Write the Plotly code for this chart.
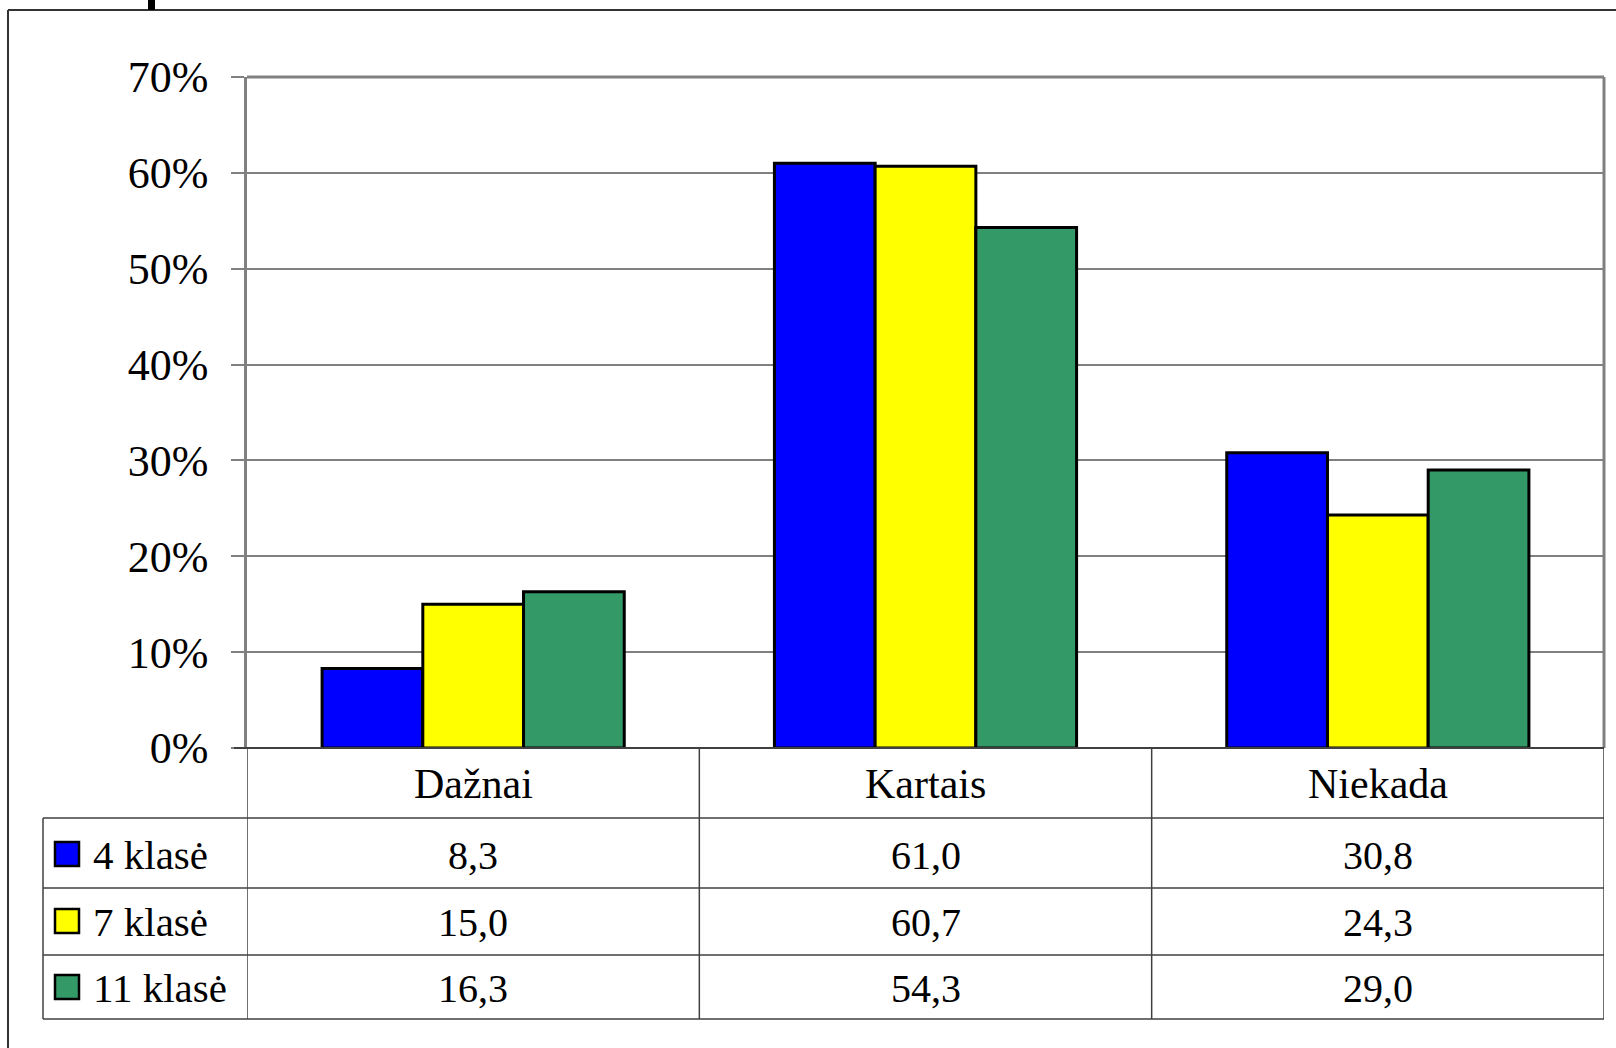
import plotly.graph_objects as go

categories = ["Dažnai", "Kartais", "Niekada"]
series_names = ["4 klasė", "7 klasė", "11 klasė"]
series_values = [
    [8.3, 61.0, 30.8],
    [15.0, 60.7, 24.3],
    [16.3, 54.3, 29.0],
]
series_colors = ["#0000FF", "#FFFF00", "#339966"]
y_ticks = [0, 10, 20, 30, 40, 50, 60, 70]

W, H = 1616, 1048
ML, MR, MT, MB = 247, 12, 77, 300
PH = H - MT - MB
PW = W - ML - MR

def py(px):
    return (H - MB - px) / PH

def pxp(px):
    return (px - ML) / PW

FONT = "Liberation Serif"

fig = go.Figure()
for name, vals, col in zip(series_names, series_values, series_colors):
    fig.add_trace(go.Bar(
        x=list(range(len(categories))), y=vals, name=name,
        marker=dict(color=col, line=dict(color="black", width=3)),
        showlegend=False,
    ))

shapes = []
annotations = []
grid = "#808080"
dark = "#404040"

# outer frame
shapes.append(dict(type="line", xref="paper", yref="paper", x0=pxp(8), x1=pxp(W + 5),
                   y0=py(10), y1=py(10), line=dict(color="#333333", width=2)))
shapes.append(dict(type="line", xref="paper", yref="paper", x0=pxp(8), x1=pxp(8),
                   y0=py(10), y1=py(H + 5), line=dict(color="#333333", width=2)))
# cropped title fragment
shapes.append(dict(type="rect", xref="paper", yref="paper", x0=pxp(148), x1=pxp(155),
                   y0=py(10), y1=py(-2), fillcolor="black", line=dict(width=0)))

# plot area frame top/right
shapes.append(dict(type="line", xref="paper", yref="paper", x0=0, x1=1, y0=1, y1=1, line=dict(color=grid, width=3)))
shapes.append(dict(type="line", xref="paper", yref="paper", x0=1, x1=1, y0=0, y1=1, line=dict(color=grid, width=3)))

# table
ncat = len(categories)
bounds = [i - 0.5 for i in range(ncat + 1)]
row_lines_px = [818, 888, 955, 1019]
xpaper_left = pxp(43)
for b in bounds:
    shapes.append(dict(type="line", xref="x", yref="paper", x0=b, x1=b, y0=py(748), y1=py(1019),
                       line=dict(color=dark, width=1.5)))
shapes.append(dict(type="line", xref="paper", yref="paper", x0=xpaper_left, x1=xpaper_left,
                   y0=py(818), y1=py(1019), line=dict(color=dark, width=1.5)))
for ry in row_lines_px:
    shapes.append(dict(type="line", xref="paper", yref="paper", x0=xpaper_left, x1=1, y0=py(ry), y1=py(ry),
                       line=dict(color=dark, width=1.5)))
# zero line
shapes.append(dict(type="line", xref="paper", yref="paper", x0=pxp(234), x1=1, y0=0, y1=0,
                   line=dict(color=dark, width=2)))

# category labels
for i, c in enumerate(categories):
    annotations.append(dict(x=i, y=py(784), xref="x", yref="paper", text=c, showarrow=False,
                            font=dict(family=FONT, size=42, color="black"), xanchor="center", yanchor="middle"))
row_centers = [855, 922, 988]
for r, (name, vals, col) in enumerate(zip(series_names, series_values, series_colors)):
    cy = row_centers[r]
    for i, v in enumerate(vals):
        annotations.append(dict(x=i, y=py(cy), xref="x", yref="paper", text=f"{v:.1f}".replace(".", ","),
                                showarrow=False, font=dict(family=FONT, size=40, color="black"),
                                xanchor="center", yanchor="middle"))
    shapes.append(dict(type="rect", xref="paper", yref="paper",
                       x0=pxp(55), x1=pxp(79), y0=py(cy - 13), y1=py(cy + 11),
                       fillcolor=col, line=dict(color="black", width=2.5)))
    annotations.append(dict(x=pxp(91), y=py(cy), xref="paper", yref="paper", text=name,
                            showarrow=False, font=dict(family=FONT, size=41, color="black"),
                            xanchor="left", yanchor="middle"))

fig.update_layout(
    width=W, height=H,
    margin=dict(l=ML, r=MR, t=MT, b=MB),
    paper_bgcolor="white", plot_bgcolor="white",
    barmode="group", bargap=0.332, bargroupgap=0,
    shapes=shapes, annotations=annotations,
    showlegend=False,
)
fig.update_xaxes(range=[-0.5, ncat - 0.5], showticklabels=False, showgrid=False, zeroline=False,
                 showline=False, ticks="")
fig.update_yaxes(range=[0, 70], tickvals=y_ticks, ticktext=[f"{t}%" for t in y_ticks],
                 showgrid=True, gridcolor=grid, gridwidth=1.5, zeroline=False,
                 showline=True, linecolor=grid, linewidth=2.5,
                 ticks="outside", ticklen=13, tickcolor=grid, tickwidth=1.5,
                 ticklabelstandoff=14,
                 tickfont=dict(family=FONT, size=44, color="black"))

fig.write_html("out.html", config={"displayModeBar": False},
               post_script="document.body.style.margin='0';document.body.style.overflow='hidden';")
